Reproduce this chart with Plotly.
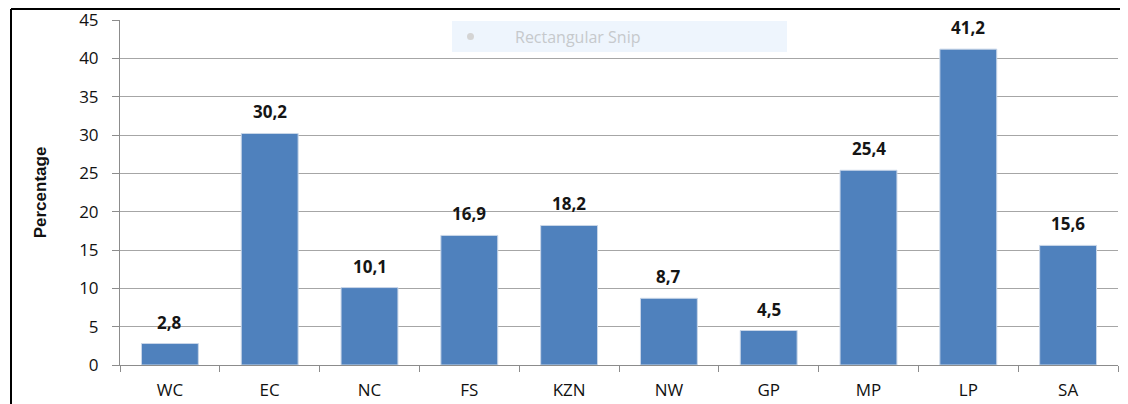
import plotly.graph_objects as go

categories = ["WC", "EC", "NC", "FS", "KZN", "NW", "GP", "MP", "LP", "SA"]
values = [2.8, 30.2, 10.1, 16.9, 18.2, 8.7, 4.5, 25.4, 41.2, 15.6]
labels = ["2,8", "30,2", "10,1", "16,9", "18,2", "8,7", "4,5", "25,4", "41,2", "15,6"]
y_ticks = [0, 5, 10, 15, 20, 25, 30, 35, 40, 45]

OFF = 8  # page offset of the figure (body margin)
W, H = 1128, 404
L, R, T, B = 120 - OFF, 10 + OFF, 20 - OFF, 39 + OFF
pw = W - L - R
ph = H - T - B

def px_x(p):
    return (p - OFF - L) / pw

def px_y(p):
    return 1 - (p - OFF - T) / ph

fig = go.Figure()
fig.add_trace(go.Bar(
    x=categories, y=values, width=0.57,
    marker=dict(color="#4F81BD", line=dict(color="#c9d6e8", width=1)),
    hoverinfo="x+y",
))

for c, v, t in zip(categories, values, labels):
    fig.add_annotation(x=c, y=v, text="<b>%s</b>" % t, showarrow=False,
                       yanchor="bottom", yshift=8,
                       font=dict(family="Open Sans, Liberation Sans, sans-serif", size=17, color="#151515"))

# frame
fig.add_shape(type="line", xref="paper", yref="paper", x0=px_x(11), x1=px_x(11), y0=px_y(9), y1=px_y(404),
              line=dict(color="black", width=2))
fig.add_shape(type="line", xref="paper", yref="paper", x0=px_x(11), x1=px_x(1128), y0=px_y(9), y1=px_y(9),
              line=dict(color="black", width=2))
# watermark box
fig.add_shape(type="rect", xref="paper", yref="paper", x0=px_x(452), x1=px_x(787), y0=px_y(21), y1=px_y(52),
              line=dict(width=0), fillcolor="#eef5fd", layer="above")
fig.add_shape(type="circle", xref="paper", yref="paper", x0=px_x(467), x1=px_x(474), y0=px_y(33), y1=px_y(40),
              line=dict(width=0), fillcolor="#d4d4d4", layer="above")
fig.add_annotation(xref="paper", yref="paper", x=px_x(513), y=px_y(37), xanchor="left", yanchor="middle",
                   text="Rectangular Snip", showarrow=False,
                   font=dict(family="Open Sans, sans-serif", size=16, color="#c6c9cc"))

fig.update_layout(
    width=W, height=H,
    margin=dict(l=L, r=R, t=T, b=B, pad=0, autoexpand=False),
    paper_bgcolor="white", plot_bgcolor="white",
    showlegend=False,
    bargap=0.43,
    font=dict(family="Open Sans, Liberation Sans, sans-serif", size=16, color="#1a1a1a"),
    xaxis=dict(
        type="category", tickson="boundaries", ticks="outside", ticklen=6,
        tickcolor="#8c8c8c", showline=True, linecolor="#8c8c8c", linewidth=1,
        showgrid=False, tickfont=dict(size=17, color="#111111"), ticklabelstandoff=10,
        automargin=False, ticklabeloverflow="allow",
    ),
    yaxis=dict(
        range=[0, 45], tickvals=y_ticks, ticks="outside", ticklen=7, tickcolor="#8c8c8c",
        showline=True, linecolor="#8c8c8c", linewidth=1,
        showgrid=True, gridcolor="#a6a6a6", gridwidth=1, zeroline=False,
        tickfont=dict(size=17, color="#111111"), automargin=False, ticklabelstandoff=10,
        ticklabeloverflow="allow",
        title=dict(text="<b>Percentage</b>", standoff=28,
                   font=dict(family="Liberation Sans Narrow, Liberation Sans, sans-serif", size=17, color="#111111")),
    ),
)

fig.write_html("out.html")
